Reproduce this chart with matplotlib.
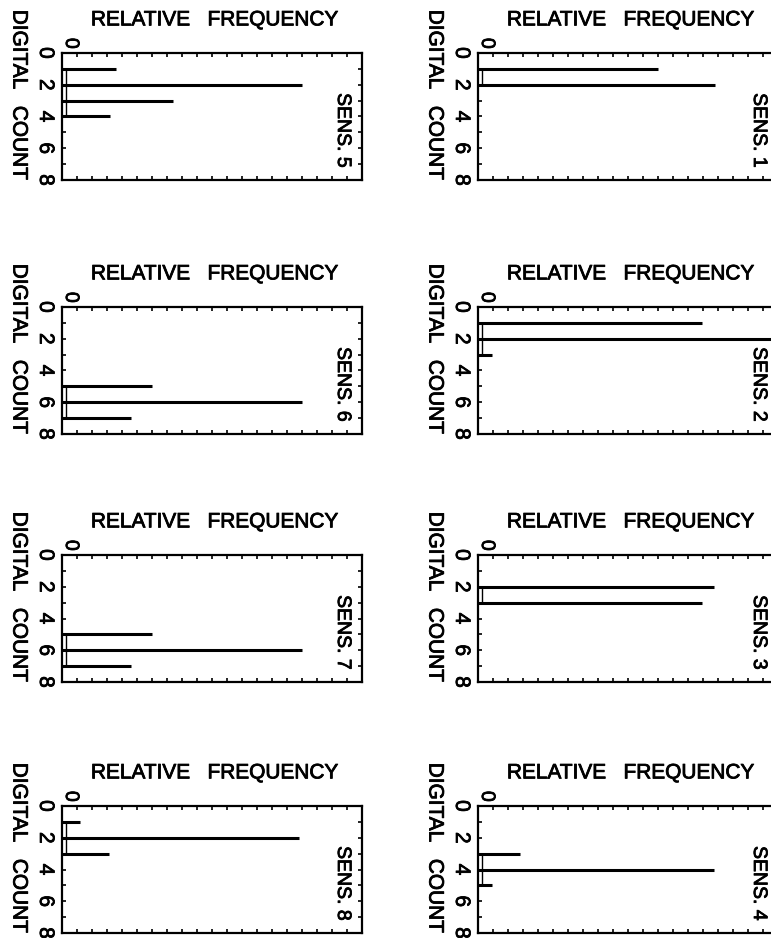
import matplotlib
matplotlib.use("Agg")
import matplotlib.pyplot as plt
import matplotlib.patheffects as pe
from matplotlib.ticker import MultipleLocator, FixedLocator, FixedFormatter

plt.rcParams['font.family'] = ['Liberation Sans', 'DejaVu Sans']

# Histogram of digital counts for each sensor (relative frequency per count)
sens_left = [5, 6, 7, 8]
sens_right = [1, 2, 3, 4]

counts_s1 = [1, 2]
freq_s1 = [0.60, 0.79]
counts_s2 = [1, 2, 3]
freq_s2 = [0.745, 0.98, 0.045]
counts_s3 = [2, 3]
freq_s3 = [0.787, 0.747]
counts_s4 = [3, 4, 5]
freq_s4 = [0.14, 0.785, 0.047]
counts_s5 = [1, 2, 3, 4]
freq_s5 = [0.18, 0.80, 0.37, 0.16]
counts_s6 = [5, 6, 7]
freq_s6 = [0.30, 0.80, 0.23]
counts_s7 = [5, 6, 7]
freq_s7 = [0.30, 0.80, 0.23]
counts_s8 = [1, 2, 3]
freq_s8 = [0.06, 0.79, 0.155]

hist = {
    1: (counts_s1, freq_s1), 2: (counts_s2, freq_s2),
    3: (counts_s3, freq_s3), 4: (counts_s4, freq_s4),
    5: (counts_s5, freq_s5), 6: (counts_s6, freq_s6),
    7: (counts_s7, freq_s7), 8: (counts_s8, freq_s8),
}

count_ticks = [0, 2, 4, 6, 8]
count_labels = ['0', '2', '4', '6', '8']
freq_ticks = [0]
freq_labels = ['0']

W, H = 771, 938
fig = plt.figure(figsize=(W / 100, H / 100), dpi=100)

col_left_px = [62, 478]
row_top_px = [53, 307, 555, 806]
box_w, box_h = 300, 127

FS = 15
heavy = [pe.withStroke(linewidth=0.6, foreground='black')]


def draw_panel(ax, sens):
    cnts, freqs = hist[sens]
    ax.set_xlim(0, 1)
    ax.set_ylim(8, 0)
    ax.hlines(cnts, 0, freqs, colors='black', linewidth=2.2)
    # baseline joining the bars
    ax.vlines(0.012, min(cnts), max(cnts), colors='black', linewidth=1.0)

    for s in ax.spines.values():
        s.set_linewidth(1.6)

    ax.yaxis.set_major_locator(FixedLocator(count_ticks))
    ax.yaxis.set_major_formatter(FixedFormatter(count_labels))
    ax.yaxis.set_minor_locator(MultipleLocator(1))
    ax.tick_params(axis='y', which='both', direction='in', left=True, right=True,
                   length=3, width=1.2, labelsize=FS, pad=5, labelrotation=270)
    for lab in ax.get_yticklabels():
        lab.set_verticalalignment('center')
        lab.set_path_effects(heavy)

    ax.xaxis.set_major_locator(FixedLocator(freq_ticks))
    ax.xaxis.set_major_formatter(FixedFormatter(freq_labels))
    ax.xaxis.set_minor_locator(MultipleLocator(0.05))
    ax.tick_params(axis='x', which='both', direction='in', top=True, bottom=True,
                   length=3, width=1.2)
    ax.tick_params(axis='x', which='major', labeltop=True, labelbottom=False,
                   labelsize=FS - 1, pad=3, labelrotation=270, length=0)
    for lab in ax.get_xticklabels():
        lab.set_horizontalalignment('left')
        lab.set_path_effects(heavy)

    ax.annotate('RELATIVE   FREQUENCY', xy=(0.51, 1.0), xycoords='axes fraction',
                xytext=(0, 17), textcoords='offset points', ha='center',
                va='bottom', fontsize=FS, path_effects=heavy)
    ax.annotate('DIGITAL   COUNT', xy=(0.0, 0.67), xycoords='axes fraction',
                xytext=(-31, 0), textcoords='offset points', ha='center',
                va='center', rotation=270, fontsize=FS, path_effects=heavy)
    ax.text(0.935, 0.39, f'SENS. {sens}', transform=ax.transAxes, ha='center',
            va='center', rotation=270, fontsize=FS - 1, path_effects=heavy)


for r in range(4):
    for c, sens_list in enumerate([sens_left, sens_right]):
        left = col_left_px[c] / W
        bottom = 1 - (row_top_px[r] + box_h) / H
        ax = fig.add_axes([left, bottom, box_w / W, box_h / H])
        draw_panel(ax, sens_list[r])

fig.savefig('out.png', dpi=100, facecolor='white')
